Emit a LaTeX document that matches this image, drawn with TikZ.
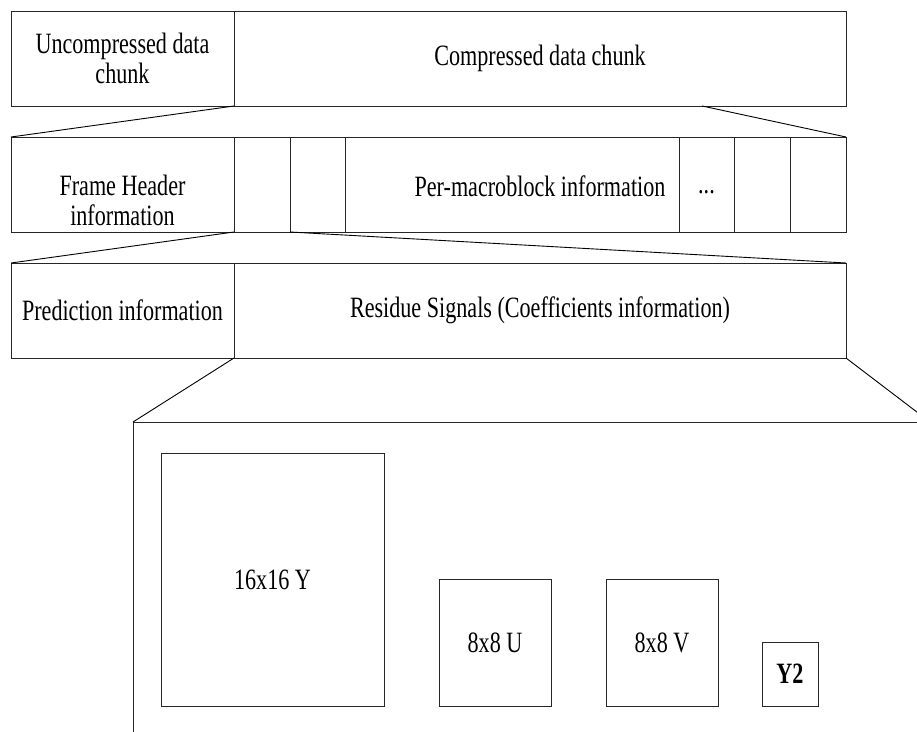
\documentclass[tikz,border=0pt]{standalone}
\usepackage{fontspec}
\setmainfont{Liberation Serif}[FakeStretch=0.75]
\usetikzlibrary{calc}
\begin{document}
\begin{tikzpicture}[x=1pt,y=-1pt,
  cell/.style={draw=black!85,line width=0.9pt,fill=white,anchor=north west,
    inner sep=0pt,outer sep=0pt,align=center,
    font=\fontsize{29.5}{30}\selectfont},
  txt/.style={inner sep=0pt,align=center,font=\fontsize{29.5}{30}\selectfont},
  link/.style={draw=black,line width=0.9pt}]
\useasboundingbox (0,0) rectangle (917,731);
\clip (0,0) rectangle (917,731);
\fill[white] (0,0) rectangle (917,731);

% top level: the data chunks
\node[cell,minimum width=223pt,minimum height=95pt] (unc) at (11,11) {Uncompressed data\\chunk};
\node[cell,minimum width=612pt,minimum height=95pt] (cmp) at (234,11) {Compressed data chunk};

% second level: frame header and macroblocks
\node[cell,minimum width=223pt,minimum height=95pt] (fh) at (11,137) {};
\node[txt] (fhtxt) at (122.5,200) {Frame Header\\information};
\node[cell,minimum width=56pt,minimum height=95pt] (mb1) at (234,137) {};
\node[cell,minimum width=55pt,minimum height=95pt] (mb2) at (290,137) {};
\node[cell,minimum width=334pt,minimum height=95pt] (pmb) at (345,137) {};
\node[txt] (pmbtxt) at (540,186) {Per-macroblock information};
\node[cell,minimum width=55pt,minimum height=95pt] (dots) at (679,137) {\vphantom{P}...};
\node[cell,minimum width=56pt,minimum height=95pt] (mb3) at (734,137) {};
\node[cell,minimum width=56pt,minimum height=95pt] (mb4) at (790,137) {};

% third level: one macroblock
\node[cell,minimum width=223pt,minimum height=95pt] (pred) at (11,263) {Prediction information};
\node[cell,minimum width=612pt,minimum height=95pt] (res) at (234,263) {Residue Signals (Coefficients information)};

% fourth level: coefficient blocks
\node[cell,minimum width=797pt,minimum height=400pt] (coef) at (133,422) {};
\node[cell,minimum width=223pt,minimum height=253pt] (ylum) at (161,453) {16x16 Y};
\node[cell,minimum width=112pt,minimum height=127pt] (ublk) at (439,579) {8x8 U};
\node[cell,minimum width=112pt,minimum height=127pt] (vblk) at (606,579) {8x8 V};
\node[cell,minimum width=56pt,minimum height=64pt,font=\fontsize{29.5}{30}\selectfont\bfseries] (ytwo) at (762,642) {Y2};

% expansion lines between levels
\coordinate (cmpcut) at ($(cmp.south west)!0.765!(cmp.south east)$);
\draw[link] (unc.south east) -- (fh.north west);
\draw[link] (cmpcut) -- (mb4.north east);
\draw[link] (fh.south east) -- (pred.north west);
\draw[link] (mb1.south east) -- (res.north east);
\draw[link] (res.south west) -- (coef.north west);
\draw[link] (res.south east) -- (coef.north east);
\end{tikzpicture}
\end{document}
